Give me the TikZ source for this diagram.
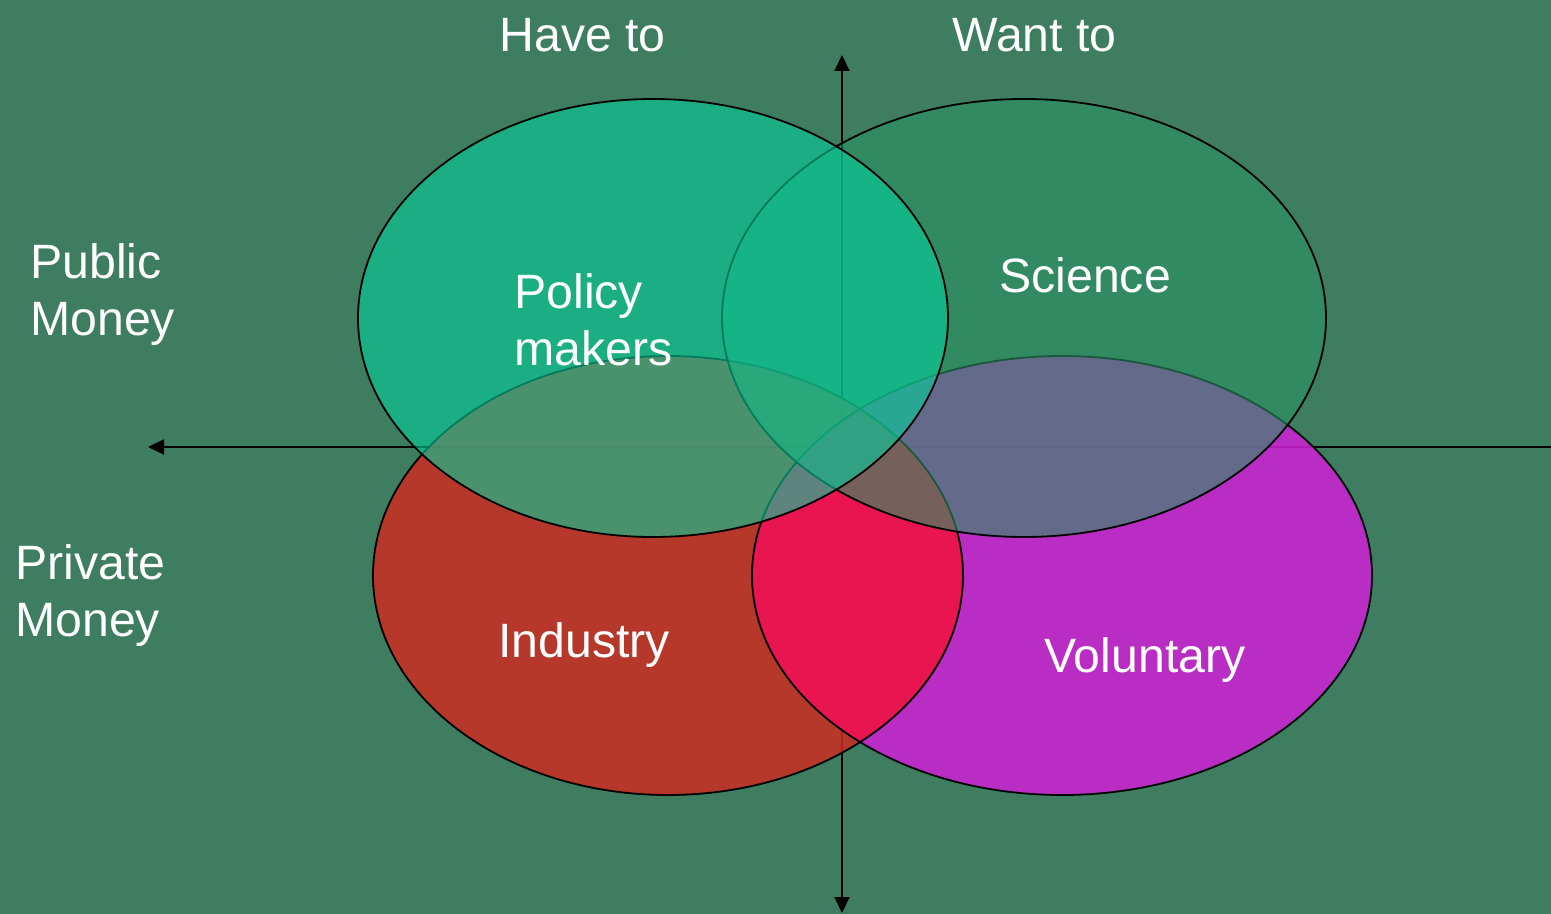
\documentclass[tikz,border=0pt]{standalone}
\usepackage{fontspec}
\setmainfont{Liberation Sans}
\usetikzlibrary{arrows.meta,positioning}
\definecolor{bggreen}{RGB}{62,125,95}
\definecolor{policyfill}{RGB}{4,207,155}
\definecolor{sciencefill}{RGB}{42,147,100}
\definecolor{industryfill}{RGB}{202,44,33}
\definecolor{voluntaryfill}{RGB}{208,32,214}
\definecolor{mixfill}{RGB}{238,18,86}

\begin{document}
\begin{tikzpicture}[x=0.5pt,y=0.5pt,yscale=-1,xscale=1,
  lbl/.style={text=white,inner sep=0pt,align=left,font=\fontsize{24.1}{28.5}\selectfont},
  axis/.style={draw=black,line width=1pt},
  tip/.style={-{Triangle[length=8pt,width=7.5pt]}},
  outline/.style={draw=black,line width=0.9pt}]
\useasboundingbox (0,0) rectangle (1551,914);
\fill[bggreen] (0,0) rectangle (1551,914);

%Axes
\coordinate (ytop) at (842,55);
\coordinate (ybot) at (842,913);
\coordinate (xleft) at (148,447);
\coordinate (xright) at (1551,447);
\draw[axis,{Triangle[length=8pt,width=7.5pt]}-{Triangle[length=8pt,width=7.5pt]}] (ybot) -- (ytop);
\draw[axis,tip] (xright) -- (xleft);

%Ellipse: Voluntary
\fill[voluntaryfill,opacity=0.85] (1062,575.5) ellipse [x radius=310,y radius=219.5];
%Ellipse: Industry
\fill[industryfill,opacity=0.85] (668,575.5) ellipse [x radius=295,y radius=219.5];
%Overlap: Industry and Voluntary
\begin{scope}
\clip (668,575.5) ellipse [x radius=295,y radius=219.5];
\fill[mixfill,opacity=0.85] (1062,575.5) ellipse [x radius=310,y radius=219.5];
\end{scope}
\draw[outline] (1062,575.5) ellipse [x radius=310,y radius=219.5];
\draw[outline] (668,575.5) ellipse [x radius=295,y radius=219.5];

%Ellipse: Science
\fill[sciencefill,opacity=0.6] (1024,318) ellipse [x radius=302,y radius=219];
\draw[outline] (1024,318) ellipse [x radius=302,y radius=219];
%Ellipse: Policy makers
\fill[policyfill,opacity=0.6] (653,318) ellipse [x radius=295,y radius=219];
\draw[outline] (653,318) ellipse [x radius=295,y radius=219];

%Labels
\node[lbl,anchor=base west] (haveto) at (499,52) {Have to};
\node[lbl,anchor=base west] (wantto) at (952,52) {Want to};
\node[lbl,anchor=west] (public) at (30,295) {Public\\Money};
\node[lbl,anchor=west] (private) at (15,596) {Private\\Money};
\node[lbl,anchor=west] (policy) at (514,320) {Policy\\makers};
\node[lbl,anchor=base west] (science) at (999,293) {Science};
\node[lbl,anchor=base west] (industry) at (498,657) {Industry};
\node[lbl,anchor=base west] (voluntary) at (1044,672) {Voluntary};

\end{tikzpicture}
\end{document}
